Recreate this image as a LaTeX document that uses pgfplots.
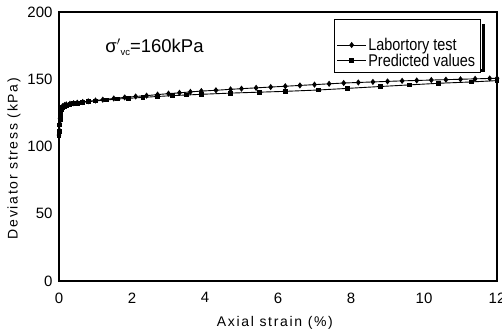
\documentclass[border=0pt]{standalone}
\usepackage{fontspec}
\setmainfont{Liberation Sans}
\usepackage{pgfplots}
\pgfplotsset{compat=1.18}
\usepackage{graphicx}
\pgfplotstableread{
x y
0 108.5
0.01 112
0.02 117
0.03 121
0.04 124
0.05 126
0.06 127.5
0.08 129
0.1 130
0.15 130.8
0.2 131.3
0.3 131.8
0.4 132.2
0.5 132.6
0.65 133.1
0.8 133.6
1.0 134.2
1.2 134.8
1.5 135.7
1.8 136.5
2.1 137.2
2.4 137.8
2.7 138.6
3.0 139.3
3.3 139.9
3.6 140.6
3.9 141.2
4.3 141.8
4.7 142.5
5.0 143
5.4 143.6
5.8 144.2
6.2 144.8
6.6 145.4
7.0 146
7.4 146.6
7.8 147.2
8.2 147.6
8.6 148
9.0 148.4
9.4 148.8
9.8 149.1
10.2 149.4
10.6 149.7
11.0 150
11.4 150.3
11.8 150.6
12.0 150.7
}\labdata
\pgfplotstableread{
x y
0 108
0.01 111
0.02 116
0.03 120
0.04 123
0.05 125.5
0.07 127.5
0.1 129
0.15 130
0.2 130.7
0.3 131.3
0.4 131.8
0.5 132.2
0.65 132.8
0.8 133.3
1.0 133.9
1.3 134.6
1.6 135.3
1.9 135.8
2.3 136.5
2.7 137.2
3.1 137.8
3.5 138.3
3.9 138.8
4.7 139.7
5.5 140.4
6.2 141
7.1 142
7.9 143.2
8.8 144.6
9.6 145.8
10.4 147
11.3 148
12 149
}\preddata
\newcommand{\legtext}[1]{\scalebox{0.85}[1]{\fontsize{17}{19}\selectfont #1}}
\begin{document}
\begin{tikzpicture}
\useasboundingbox (0,0) rectangle (502pt,334pt);
\begin{axis}[
  at={(59pt,53pt)}, anchor=south west,
  scale only axis, width=438pt, height=269pt,
  xmin=0, xmax=12, ymin=0, ymax=200,
  xtick={0,2,...,12}, ytick={0,50,...,200},
  major tick length=0pt,
  axis line style={line width=1.6pt},
  tick label style={font=\fontsize{15}{17}\selectfont},
  /pgf/number format/assume math mode=true,
  xticklabel style={yshift=-8pt},
  yticklabel style={xshift=-3pt},
  xlabel={\addfontfeatures{LetterSpace=12}Axial strain (\%)},
  ylabel={\addfontfeatures{LetterSpace=12}Deviator stress (kPa)},
  xlabel style={at={(axis description cs:0.493,-0.156)}, anchor=center, font=\fontsize{14}{16}\selectfont},
  ylabel style={at={(axis description cs:-0.103,0.455)}, anchor=center, font=\fontsize{14}{16}\selectfont},
  legend cell align=left,
  legend style={at={(0.962,0.975)}, anchor=north east, draw=black, thin, fill=white,
    row sep=-2pt, inner xsep=3pt, inner ysep=2pt},
  legend image code/.code={\draw[mark repeat=2,mark phase=2] plot coordinates {(0cm,0cm) (0.5cm,0cm) (1.0cm,0cm)};},
]
\addlegendimage{empty legend}
\addlegendentry{\legtext{\phantom{X}}}
\addplot[black, line width=0.9pt, mark=diamond*, mark size=2.4pt] table[x=x,y=y] {\labdata};
\addlegendentry{\legtext{Labortory test}}
\addplot[black, line width=0.9pt, mark=square*, mark size=1.9pt, mark options={solid}] table[x=x,y=y] {\preddata};
\addlegendentry{\legtext{Predicted values}}
\draw[line width=3pt] (rel axis cs:0.632,0.781) -- (rel axis cs:0.969,0.781) -- (rel axis cs:0.969,0.955);
\node[font=\fontsize{18.5}{20}\selectfont] at (rel axis cs:0.218,0.87) {σ$'$\raisebox{-0.3ex}{\fontsize{9.5}{10}\selectfont vc}=160kPa};
\end{axis}
\end{tikzpicture}
\end{document}
